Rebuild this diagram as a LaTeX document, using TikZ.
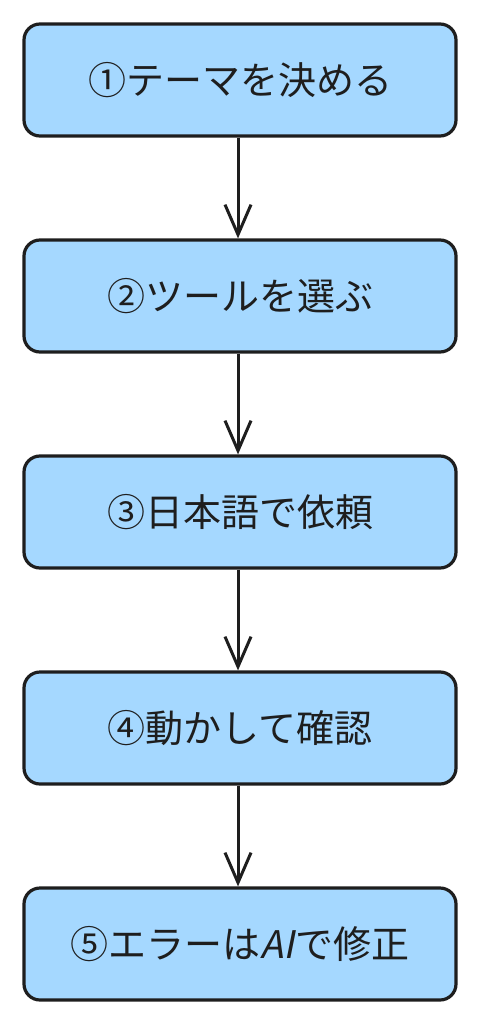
\documentclass[tikz,border=0pt]{standalone}
\usepackage{fontspec}
\setmainfont{Noto Sans CJK JP}
\newfontfamily\slantfont[FakeSlant=0.2]{Noto Sans CJK JP}
\usetikzlibrary{arrows.meta}
\definecolor{boxfill}{HTML}{A5D8FF}
\definecolor{ink}{HTML}{1E1E1E}
\begin{document}
\begin{tikzpicture}[x=1pt,y=-1pt,
  stepbox/.style={draw=ink, fill=boxfill, line width=3.2pt, rounded corners=16pt,
    minimum width=432pt, minimum height=112pt, inner sep=0pt,
    font=\fontsize{38}{44}\selectfont, text=ink},
  flow/.style={draw=ink, line width=3pt,
    -{Straight Barb[length=30pt,width=26pt,line width=3pt]}}]
\useasboundingbox (0,0) rectangle (479,1024);
\node[stepbox] (s1) at (240,80)  {①テーマを決める};
\node[stepbox] (s2) at (240,296) {②ツールを選ぶ};
\node[stepbox] (s3) at (240,512) {③日本語で依頼};
\node[stepbox] (s4) at (240,728) {④動かして確認};
\node[stepbox] (s5) at (240,944) {⑤エラーは{\slantfont AI}で修正};
\draw[flow] ([xshift=-2pt]s1.south) -- ([xshift=-2pt]s2.north);
\draw[flow] ([xshift=-2pt]s2.south) -- ([xshift=-2pt]s3.north);
\draw[flow] ([xshift=-2pt]s3.south) -- ([xshift=-2pt]s4.north);
\draw[flow] ([xshift=-2pt]s4.south) -- ([xshift=-2pt]s5.north);
\end{tikzpicture}
\end{document}
